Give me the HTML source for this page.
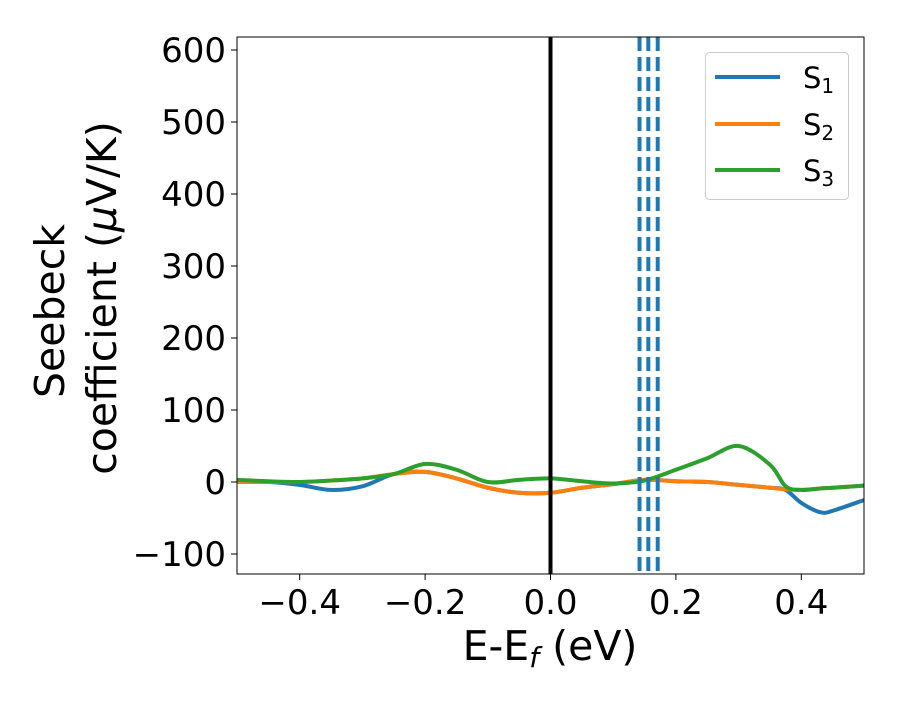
<!DOCTYPE html>
<html><head><meta charset="utf-8">
<style>
html,body{margin:0;padding:0;background:#fff;}
svg text{font-family:"DejaVu Sans","Liberation Sans",sans-serif;fill:#000;}
</style></head>
<body>
<svg id="chart" width="900" height="700" viewBox="0 0 900 700" xmlns="http://www.w3.org/2000/svg">
<rect width="900" height="700" fill="#fff"/>
<g id="plot"></g>
<g id="axes"></g>
</svg>
<script>
const xValues = [-0.5,-0.45,-0.4,-0.35,-0.3,-0.25,-0.2,-0.15,-0.1,-0.05,0,0.05,0.1,0.15,0.2,0.25,0.3,0.35,0.375,0.4,0.43,0.45,0.5];
const s1Values = [0,0,-4,-11,-6,11,14,5,-8,-15,-15,-8,-3,3,1,0,-4,-8,-11,-29,-42,-40,-25];
const s2Values = [0,0,0,2,5,11,14,5,-8,-15,-15,-8,-3,3,1,0,-4,-8,-10,-11,-9,-8,-5];
const s3Values = [3,1,0,2,5,11,25,17,0,3,5,1,-2,2,17,33,50,24,-6,-11,-9,-8,-5];
const seriesNames = ["S1","S2","S3"];
const seriesColors = ["#1f77b4","#ff7f0e","#2ca02c"];
const xTicks = [-0.4,-0.2,0.0,0.2,0.4];
const xTickLabels = ["\u22120.4","\u22120.2","0.0","0.2","0.4"];
const yTicks = [-100,0,100,200,300,400,500,600];
const yTickLabels = ["\u2212100","0","100","200","300","400","500","600"];
const dashedX = [0.142,0.156,0.171];
const fermiX = [0];

const L=237,R=864,T=37,B=574;
const xMin=-0.5,xMax=0.5;
const sx=v=>L+(v-xMin)/(xMax-xMin)*(R-L);
const sy=v=>482-v*0.72;
const NS="http://www.w3.org/2000/svg";
function mk(tag,attrs,parent){const e=document.createElementNS(NS,tag);for(const k in attrs)e.setAttribute(k,attrs[k]);parent.appendChild(e);return e;}
const plot=document.getElementById('plot'), axes=document.getElementById('axes');

const cp=mk('clipPath',{id:'clip'},plot);
mk('rect',{x:L,y:T,width:R-L,height:B-T},cp);

function curve(xs,ys){
  const p=xs.map((x,i)=>[sx(x),sy(ys[i])]);
  let d=`M${p[0][0]},${p[0][1]}`;
  for(let i=0;i<p.length-1;i++){
    const p0=p[i-1]||p[i],p1=p[i],p2=p[i+1],p3=p[i+2]||p2;
    const c1=[p1[0]+(p2[0]-p0[0])/6,p1[1]+(p2[1]-p0[1])/6];
    const c2=[p2[0]-(p3[0]-p1[0])/6,p2[1]-(p3[1]-p1[1])/6];
    d+=`C${c1[0]},${c1[1]} ${c2[0]},${c2[1]} ${p2[0]},${p2[1]}`;
  }
  return d;
}
const all=[s1Values,s2Values,s3Values];
all.forEach((vals,i)=>{
  const path=mk('path',{d:curve(xValues,vals),fill:'none',stroke:seriesColors[i],'stroke-width':4,'clip-path':'url(#clip)'},plot);
  
  
});
fermiX.forEach(v=>{
  const l=mk('line',{x1:sx(v),x2:sx(v),y1:T,y2:B,stroke:'#000','stroke-width':4},plot);
  
  
});
dashedX.forEach(v=>{
  const l=mk('line',{x1:sx(v),x2:sx(v),y1:T,y2:B,stroke:'#1f77b4','stroke-width':4,'stroke-dasharray':'14,6'},plot);
  
  
});

const frame=mk('rect',{x:L,y:T,width:R-L,height:B-T,fill:'none',stroke:'#000','stroke-width':1},axes);


xTicks.forEach((v,i)=>{
  mk('line',{x1:sx(v),x2:sx(v),y1:B,y2:B+6,stroke:'#000','stroke-width':1},axes);
  const t=mk('text',{x:sx(v),y:614,'font-size':34,'text-anchor':'middle'},axes);
  t.textContent=xTickLabels[i];
  
  
});
yTicks.forEach((v,i)=>{
  mk('line',{x1:L-6,x2:L,y1:sy(v),y2:sy(v),stroke:'#000','stroke-width':1},axes);
  const t=mk('text',{x:L-11,y:sy(v)+12,'font-size':34,'text-anchor':'end'},axes);
  t.textContent=yTickLabels[i];
  
  
});
</script>
<svg style="position:absolute;left:0;top:0" width="900" height="700">
<text x="550" y="660" font-size="41" text-anchor="middle" font-family="DejaVu Sans, Liberation Sans, sans-serif">E-E<tspan font-style="italic" font-size="28" dy="7">f</tspan><tspan dy="-7"> (eV)</tspan></text>
<g font-family="DejaVu Sans, Liberation Sans, sans-serif" font-size="41">
<text x="64" y="311" text-anchor="middle" transform="rotate(-90 64 311)">Seebeck</text>
<text x="116" y="298" text-anchor="middle" transform="rotate(-90 116 298)">coefficient  (<tspan font-style="italic">μ</tspan>V/K)</text>
</g>
<g font-family="DejaVu Sans, Liberation Sans, sans-serif">
<rect x="705.5" y="52.5" width="143" height="147" rx="4" fill="#fff" fill-opacity="0.8" stroke="#ccc"/>
<g><line x1="715" x2="780" y1="77" y2="77" stroke="#1f77b4" stroke-width="4"/><text x="803" y="88" font-size="29">S<tspan font-size="20" dy="5">1</tspan></text></g>
<g><line x1="715" x2="780" y1="124" y2="124" stroke="#ff7f0e" stroke-width="4"/><text x="803" y="135" font-size="29">S<tspan font-size="20" dy="5">2</tspan></text></g>
<g><line x1="715" x2="780" y1="170" y2="170" stroke="#2ca02c" stroke-width="4"/><text x="803" y="181" font-size="29">S<tspan font-size="20" dy="5">3</tspan></text></g>
</g>
</svg>
</body></html>
